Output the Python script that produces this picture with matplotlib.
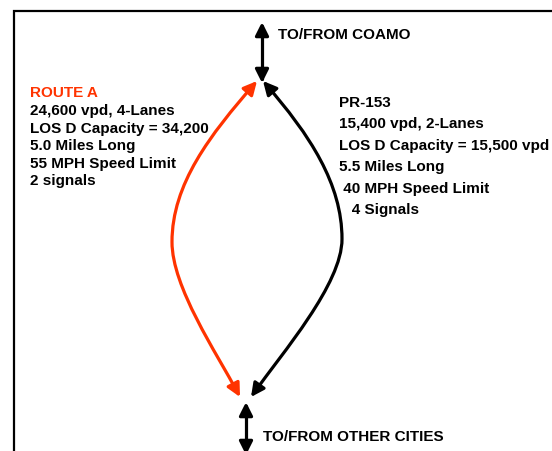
import matplotlib
matplotlib.use("Agg")
import matplotlib.pyplot as plt
from matplotlib.path import Path
from matplotlib.patches import FancyArrowPatch

# ── diagram text ──
route_a_title = "ROUTE A"
route_a_lines = ["24,600 vpd, 4-Lanes",
                 "LOS D Capacity = 34,200",
                 "5.0 Miles Long",
                 "55 MPH Speed Limit",
                 "2 signals"]
pr153_lines = ["PR-153",
               "15,400 vpd, 2-Lanes",
               "LOS D Capacity = 15,500 vpd",
               "5.5 Miles Long",
               " 40 MPH Speed Limit",
               "   4 Signals"]
top_label = "TO/FROM COAMO"
bottom_label = "TO/FROM OTHER CITIES"

RED = "#ff3300"
FONT = dict(family="Liberation Sans", fontweight="bold", fontsize=11)

fig = plt.figure(figsize=(5.52, 4.52), dpi=100)
ax = fig.add_axes([0, 0, 1, 1])
ax.set_xlim(0, 552)
ax.set_ylim(452, 0)
ax.axis("off")

# frame (only top and left edges are visible in the crop)
ax.plot([14, 14, 560], [470, 11.5, 11.5], color="black", lw=1.6,
        solid_joinstyle="miter", clip_on=False)


def arrow(verts, codes, color):
    p = FancyArrowPatch(path=Path(verts, codes),
                        arrowstyle="<|-|>,head_length=0.8,head_width=0.4",
                        mutation_scale=10, lw=2.3, color=color,
                        shrinkA=0, shrinkB=0)
    ax.add_patch(p)


C4x2 = [Path.MOVETO] + [Path.CURVE4] * 6
L2 = [Path.MOVETO, Path.LINETO]

# route A (red): top tip -> leftmost point -> bottom tip
arrow([(257, 82), (210, 136), (172, 185), (172, 243),
       (172, 288), (216, 353), (240, 398)], C4x2, RED)
# PR-153 (black)
arrow([(263, 82), (310, 136), (342, 185), (342, 240),
       (342, 285), (283, 353), (251, 398)], C4x2, "black")

# connectors
arrow([(262, 23), (262, 84)], L2, "black")
arrow([(246, 403), (246, 456)], L2, "black")

ax.text(278, 35, top_label, va="center", ha="left", **FONT)
ax.text(263, 437, bottom_label, va="center", ha="left", **FONT)

ax.text(30, 93, route_a_title, va="center", ha="left", color=RED, **FONT)
for i, s in enumerate(route_a_lines):
    ax.text(30, 111.5 + i * 17.5, s, va="center", ha="left", **FONT)

for i, s in enumerate(pr153_lines):
    ax.text(339, 103 + i * 21.4, s, va="center", ha="left", **FONT)

fig.savefig("out.png", dpi=100)
